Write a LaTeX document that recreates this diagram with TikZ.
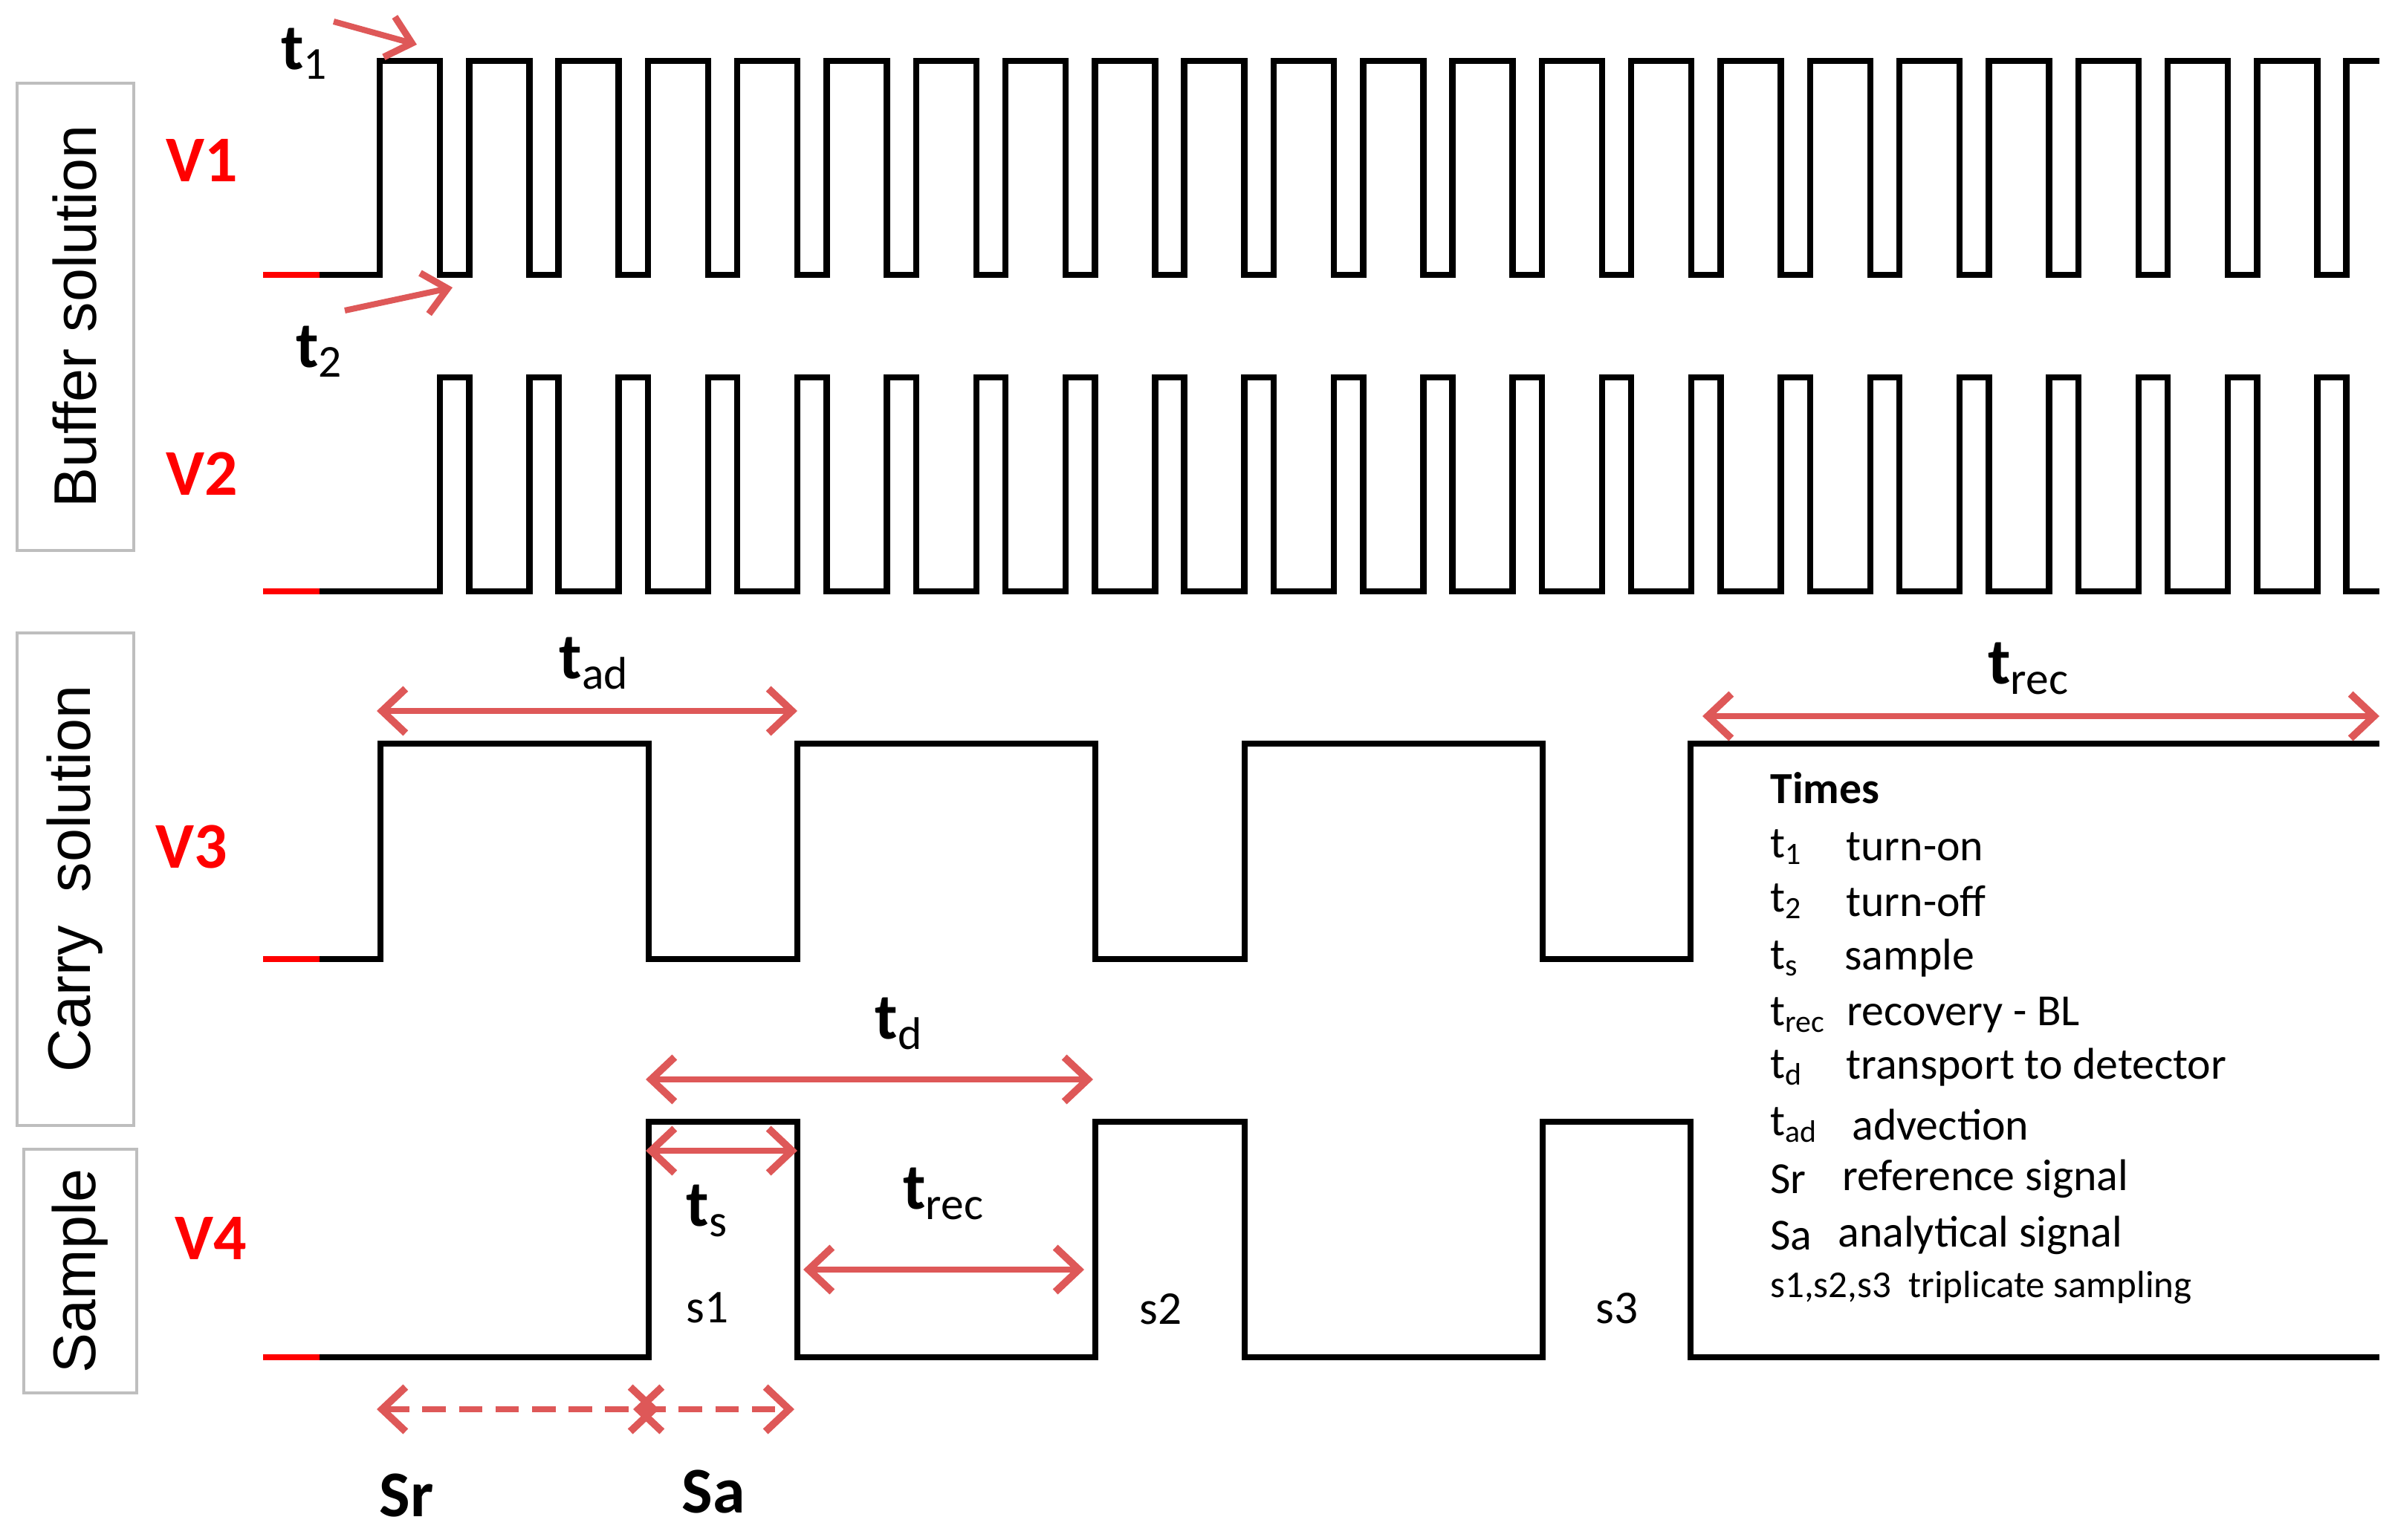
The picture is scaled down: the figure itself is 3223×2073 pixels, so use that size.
\documentclass[tikz,border=0pt]{standalone}
\usepackage{fontspec}
\setmainfont{Carlito}
\newfontfamily\libsans{Liberation Sans}
\usetikzlibrary{arrows.meta}
\definecolor{arr}{RGB}{222,88,88}
\definecolor{boxg}{RGB}{190,190,190}
\newcommand{\rsub}[1]{\textsubscript{\mdseries #1}}
\tikzset{
 wave/.style={line width=2.4pt,black,line join=miter},
 redstart/.style={line width=2.4pt,red},
 marker/.style={line width=2.5pt,arr,{Straight Barb[length=9pt,width=17pt,line width=2.8pt]}-{Straight Barb[length=9pt,width=17pt,line width=2.8pt]}},
 pointer/.style={line width=2.3pt,arr,-{Straight Barb[length=9pt,width=16pt,line width=2.6pt]}},
 dmarker/.style={marker,dash pattern=on 9pt off 5pt},
 sidebox/.style={draw=boxg,line width=1.2pt,inner sep=0pt},
 sidetext/.style={font=\libsans\fontsize{23}{26}\selectfont,rotate=90},
 vlab/.style={font=\bfseries\fontsize{25}{28}\selectfont,text=red},
 tlab/.style={font=\bfseries\fontsize{25}{28}\selectfont},
 slab/.style={font=\fontsize{18}{20}\selectfont},
 leg/.style={font=\fontsize{17}{19}\selectfont,anchor=west},
}
\begin{document}
\begin{tikzpicture}[x=0.01cm,y=-0.01cm]
\useasboundingbox (0,0) rectangle (3223,2073);
% side boxes
\draw[sidebox] (23,112) rectangle (180,741);
\node[sidetext] (buf) at (101,426) {Buffer solution};
\draw[sidebox] (23,852) rectangle (180,1515);
\node[sidetext] (car) at (101,1183) {Carry\ \ solution};
\draw[sidebox] (32,1547) rectangle (184,1875);
\node[sidetext] (sam) at (108,1711) {Sample};
% valve labels
\node[vlab] (v1) at (272,216) {V1};
\node[vlab] (v2) at (272,638) {V2};
\node[vlab] (v3) at (258,1140) {V3};
\node[vlab] (v4) at (284,1667) {V4};
% red starts
\draw[redstart] (354,370) -- (432,370);
\draw[redstart] (354,796) -- (432,796);
\draw[redstart] (354,1291) -- (432,1291);
\draw[redstart] (354,1827) -- (432,1827);
% V1
\draw[wave] (430,370) foreach \k in {0,...,21} {
  -- ({511+120.3*\k},370) -- ({511+120.3*\k},82) -- ({592+120.3*\k},82) -- ({592+120.3*\k},370)}
  -- (3157.6,370) -- (3157.6,82) -- (3202,82);
% V2
\draw[wave] (430,796) foreach \k in {0,...,21} {
  -- ({592+120.3*\k},796) -- ({592+120.3*\k},508) -- ({631.3+120.3*\k},508) -- ({631.3+120.3*\k},796)}
  -- (3202,796);
% V3
\draw[wave] (430,1291) -- (512,1291) -- (512,1001) -- (873,1001) -- (873,1291) -- (1073,1291) -- (1073,1001)
  -- (1474,1001) -- (1474,1291) -- (1675,1291) -- (1675,1001) -- (2076,1001) -- (2076,1291) -- (2275,1291)
  -- (2275,1001) -- (3202,1001);
% V4
\draw[wave] (430,1827) -- (873,1827) -- (873,1510) -- (1073,1510) -- (1073,1827) -- (1474,1827) -- (1474,1510)
  -- (1675,1510) -- (1675,1827) -- (2076,1827) -- (2076,1510) -- (2275,1510) -- (2275,1827) -- (3202,1827);
% t1, t2
\node[tlab] (t1) at (410,72) {t\rsub{1}};
\node[tlab] (t2) at (430,473) {t\rsub{2}};
\coordinate (t1a) at (449,29); \coordinate (t1b) at (561,60);
\draw[pointer] (t1a) -- (t1b);
\coordinate (t2a) at (464,418); \coordinate (t2b) at (609,387);
\draw[pointer] (t2a) -- (t2b);
% markers
\coordinate (ada) at (507,957); \coordinate (adb) at (1073,957);
\draw[marker] (ada) -- (adb);
\node[tlab] (tad) at (800,893) {t\rsub{ad}};
\coordinate (tda) at (869,1453); \coordinate (tdb) at (1471,1453);
\draw[marker] (tda) -- (tdb);
\node[tlab] (td) at (1210,1378) {t\rsub{d}};
\coordinate (tsa) at (869,1549); \coordinate (tsb) at (1073,1549);
\draw[marker] (tsa) -- (tsb);
\node[tlab] (ts) at (952,1630) {t\rsub{s}};
\coordinate (ra) at (1081,1709); \coordinate (rb) at (1459,1709);
\draw[marker] (ra) -- (rb);
\node[tlab] (trec) at (1270,1607) {t\rsub{rec}};
\coordinate (r2a) at (2291,964); \coordinate (r2b) at (3202,964);
\draw[marker] (r2a) -- (r2b);
\node[tlab] (trec2) at (2730,900) {t\rsub{rec}};
\coordinate (sra) at (507,1897); \coordinate (srb) at (887,1897);
\draw[dmarker] (sra) -- (srb);
\coordinate (saa) at (852,1897); \coordinate (sab) at (1069,1897);
\draw[dmarker] (saa) -- (sab);
\node[tlab] (sr) at (547,2013) {Sr};
\node[tlab] (sa) at (960,2008) {Sa};
% sample labels
\node[slab] (s1) at (952,1760) {s1};
\node[slab] (s2) at (1562,1762) {s2};
\node[slab] (s3) at (2176,1761) {s3};
% legend
\node[leg,font=\bfseries\fontsize{17}{19}\selectfont] (lg0) at (2370,1061) {Times};
\node[leg] (lg1) at (2370,1140) {t\textsubscript{1}};
\node[leg] (lg1b) at (2472,1140) {turn-on};
\node[leg] (lg2) at (2370,1213) {t\textsubscript{2}};
\node[leg] (lg2b) at (2472,1213) {turn-off};
\node[leg] (lg3) at (2370,1290) {t\textsubscript{s}};
\node[leg] (lg3b) at (2470,1290) {sample};
\node[leg] (lg4) at (2370,1366) {t\textsubscript{rec}};
\node[leg] (lg4b) at (2473,1366) {recovery - BL};
\node[leg] (lg5) at (2370,1437) {t\textsubscript{d}};
\node[leg] (lg5b) at (2472,1437) {transport to detector};
\node[leg] (lg6) at (2370,1514) {t\textsubscript{ad}};
\node[leg] (lg6b) at (2480,1514) {advection};
\node[leg] (lg7) at (2370,1587) {Sr};
\node[leg] (lg7b) at (2467,1587) {reference signal};
\node[leg] (lg8) at (2370,1663) {Sa};
\node[leg] (lg8b) at (2461,1663) {analytical signal};
\node[leg,font=\fontsize{14.5}{16}\selectfont] (lg9) at (2370,1733) {s1,s2,s3\ \ triplicate sampling};
\end{tikzpicture}
\end{document}
